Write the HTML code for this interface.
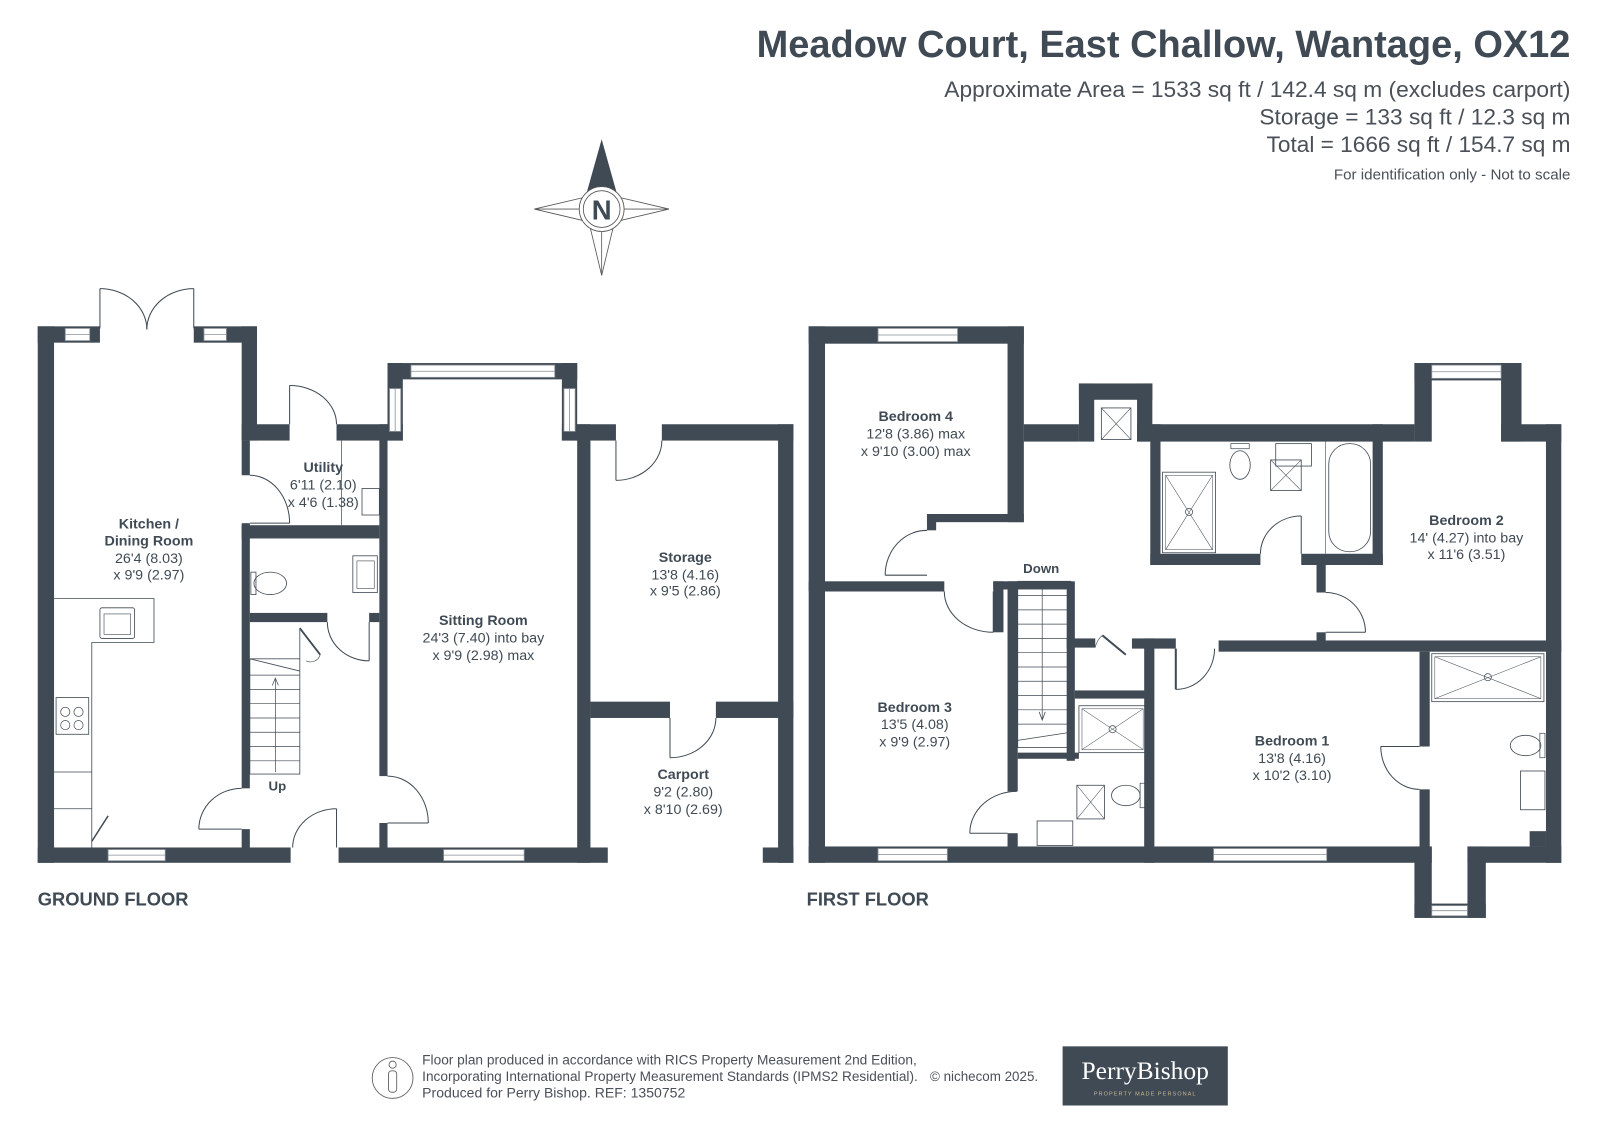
<!DOCTYPE html>
<html><head><meta charset="utf-8"><style>
html,body{margin:0;padding:0;background:#fff;}
svg{display:block;}
text{font-family:"Liberation Sans",Arial,sans-serif;}
</style></head><body>
<svg width="1599" height="1131" viewBox="0 0 1568 1109" preserveAspectRatio="none" xmlns="http://www.w3.org/2000/svg">
<rect width="1568" height="1109" fill="#fff"/>
<g fill="#3f4a54" text-anchor="end">
<text x="1540" y="56" font-size="37" font-weight="bold" textLength="798" lengthAdjust="spacingAndGlyphs">Meadow Court, East Challow, Wantage, OX12</text>
<text x="1540" y="95" font-size="21.5" fill="#4a5058" textLength="614" lengthAdjust="spacingAndGlyphs">Approximate Area = 1533 sq ft / 142.4 sq m (excludes carport)</text>
<text x="1540" y="122" font-size="21.5" fill="#4a5058" textLength="305" lengthAdjust="spacingAndGlyphs">Storage = 133 sq ft / 12.3 sq m</text>
<text x="1540" y="149" font-size="21.5" fill="#4a5058" textLength="298" lengthAdjust="spacingAndGlyphs">Total = 1666 sq ft / 154.7 sq m</text>
<text x="1540" y="176" font-size="14.5" fill="#4a5058" textLength="232" lengthAdjust="spacingAndGlyphs">For identification only - Not to scale</text>
</g>
<g stroke="#555" stroke-width="0.8" fill="#fff">
<polygon points="524,205 575,193 575,217"/>
<polygon points="656,205 605,193 605,217"/>
<polygon points="590,270 578,220 602,220"/>
<line x1="524" y1="205" x2="656" y2="205"/>
<line x1="590" y1="220" x2="590" y2="270"/>
<polygon points="590,138 576,188 604,188" fill="#3f4a54" stroke="#3f4a54"/>
<circle cx="590" cy="205" r="22"/>
<circle cx="590" cy="205" r="18"/>
</g>
<text x="590" y="215" font-size="27" font-weight="bold" fill="#3f4a54" text-anchor="middle">N</text>

<g fill="#3f4a54">
<rect x="37" y="320" width="16" height="526"/>
<rect x="37" y="320" width="61" height="16"/>
<rect x="190" y="320" width="62" height="16"/>
<rect x="237" y="320" width="15" height="112"/>
<rect x="237" y="432" width="8" height="34"/>
<rect x="237" y="513" width="8" height="260"/>
<rect x="237" y="813" width="8" height="20"/>
<rect x="237" y="416" width="47" height="16"/>
<rect x="330" y="416" width="65" height="16"/>
<rect x="380" y="356" width="15" height="76"/>
<rect x="380" y="356" width="186" height="16"/>
<rect x="551" y="356" width="15" height="76"/>
<rect x="551" y="416" width="28" height="16"/>
<rect x="372" y="416" width="8" height="345"/>
<rect x="372" y="807" width="8" height="26"/>
<rect x="566" y="416" width="13" height="430"/>
<rect x="237" y="515" width="135" height="13"/>
<rect x="245" y="601" width="76" height="9"/>
<rect x="362" y="601" width="10" height="9"/>
<rect x="37" y="831" width="248" height="15"/>
<rect x="332" y="831" width="264" height="15"/>
<rect x="579" y="416" width="25" height="16"/>
<rect x="649" y="416" width="129" height="16"/>
<rect x="763" y="416" width="15" height="430"/>
<rect x="579" y="688" width="78" height="16"/>
<rect x="702" y="688" width="76" height="16"/>
<rect x="748" y="831" width="30" height="15"/>
</g>
<g fill="#fff" stroke="#8a9096" stroke-width="0.8">
<rect x="64" y="322" width="24" height="12"/><line x1="64" y1="328" x2="88" y2="328"/>
<rect x="200" y="322" width="22" height="12"/><line x1="200" y1="328" x2="222" y2="328"/>
<rect x="403" y="358" width="141" height="12"/><line x1="403" y1="364" x2="544" y2="364"/>
<rect x="382" y="381" width="11" height="42"/><line x1="387.5" y1="381" x2="387.5" y2="423"/>
<rect x="553" y="381" width="11" height="42"/><line x1="558.5" y1="381" x2="558.5" y2="423"/>
<rect x="106" y="833" width="56" height="11"/><line x1="106" y1="838.5" x2="162" y2="838.5"/>
<rect x="435" y="833" width="79" height="11"/><line x1="435" y1="838.5" x2="514" y2="838.5"/>
</g>
<g fill="none" stroke="#3f4a54" stroke-width="1">
<line x1="98" y1="283" x2="98" y2="322"/><line x1="190" y1="283" x2="190" y2="322"/>
<path d="M98,283 A46,40 0 0 1 144,323"/><path d="M190,283 A46,40 0 0 0 144,323"/>
<line x1="284" y1="378" x2="284" y2="416"/><path d="M284,378 A46,38 0 0 1 330,416"/>
<line x1="245" y1="513" x2="284" y2="513"/><path d="M245,466 A39,47 0 0 1 284,513"/>
<line x1="237" y1="813" x2="195" y2="813"/><path d="M195,813 A42,40 0 0 1 237,773"/>
<line x1="380" y1="807" x2="420" y2="807"/><path d="M380,761 A40,46 0 0 1 420,807"/>
<line x1="330" y1="831" x2="330" y2="793"/><path d="M330,793 A43,38 0 0 0 287,831"/>
<line x1="604" y1="432" x2="604" y2="471"/><path d="M604,471 A45,39 0 0 0 649,432"/>
<line x1="657" y1="704" x2="657" y2="743"/><path d="M657,743 A45,39 0 0 0 702,704"/>
<line x1="362" y1="610" x2="362" y2="648"/><path d="M321,610 A41,38 0 0 0 362,648"/>
<line x1="335" y1="432" x2="335" y2="515" stroke-width="0.7"/>
<rect x="355" y="479" width="17" height="26" stroke-width="0.8"/>
<path d="M53,587 H151 V630 H90 V831" stroke-width="0.8"/>
<line x1="53" y1="757" x2="90" y2="757" stroke-width="0.8"/>
<line x1="53" y1="793" x2="90" y2="793" stroke-width="0.8"/>
<line x1="90" y1="825" x2="106" y2="800" stroke-width="1.5"/>
<rect x="98" y="596" width="34" height="30" rx="2" stroke-width="0.8"/>
<rect x="102" y="602" width="26" height="20" stroke-width="0.6"/>
<rect x="55" y="684" width="32" height="36" stroke-width="0.8"/>
<circle cx="64" cy="698" r="4.5" stroke-width="0.7"/><circle cx="77" cy="698" r="4.5" stroke-width="0.7"/>
<circle cx="64" cy="711" r="4.5" stroke-width="0.7"/><circle cx="77" cy="711" r="4.5" stroke-width="0.7"/>
<ellipse cx="265" cy="572" rx="16" ry="11" stroke-width="0.8"/>
<rect x="246" y="561" width="5" height="22" stroke-width="0.8"/>
<rect x="346" y="545" width="24" height="36" stroke-width="0.8"/>
<rect x="350" y="550" width="17" height="27" stroke-width="0.6"/>
<rect x="245" y="646" width="49" height="113" stroke-width="0.8"/>
<line x1="245" y1="646" x2="294" y2="658" stroke-width="0.8"/>
<g stroke-width="0.7">
<line x1="245" y1="662" x2="294" y2="662"/><line x1="245" y1="676" x2="294" y2="676"/>
<line x1="245" y1="690" x2="294" y2="690"/><line x1="245" y1="704" x2="294" y2="704"/>
<line x1="245" y1="718" x2="294" y2="718"/><line x1="245" y1="732" x2="294" y2="732"/>
<line x1="245" y1="746" x2="294" y2="746"/>
<line x1="270" y1="757" x2="270" y2="666"/>
</g>
<path d="M267,672 L270,665 L273,672" stroke-width="0.7"/>
<line x1="294" y1="616" x2="314" y2="642" stroke-width="1.8"/>
<path d="M294,616 V646" stroke-width="0.8"/>
<path d="M314,642 A10,10 0 0 1 300,648" stroke-width="0.6"/>
</g>
<g fill="#3f4a54" font-size="14" text-anchor="middle">
<text x="146" y="518" font-weight="bold">Kitchen /</text>
<text x="146" y="535" font-weight="bold">Dining Room</text>
<text x="146" y="552">26'4 (8.03)</text>
<text x="146" y="568">x 9'9 (2.97)</text>
<text x="317" y="463" font-weight="bold">Utility</text>
<text x="317" y="480">6'11 (2.10)</text>
<text x="317" y="497">x 4'6 (1.38)</text>
<text x="474" y="613" font-weight="bold">Sitting Room</text>
<text x="474" y="630">24'3 (7.40) into bay</text>
<text x="474" y="647">x 9'9 (2.98) max</text>
<text x="672" y="551" font-weight="bold">Storage</text>
<text x="672" y="568">13'8 (4.16)</text>
<text x="672" y="584">x 9'5 (2.86)</text>
<text x="670" y="764" font-weight="bold">Carport</text>
<text x="670" y="781">9'2 (2.80)</text>
<text x="670" y="798">x 8'10 (2.69)</text>
<text x="272" y="775" font-weight="bold" font-size="13">Up</text>
</g>
<text x="37" y="888" font-size="18" font-weight="bold" fill="#3f4a54">GROUND FLOOR</text>

<g fill="#3f4a54">
<rect x="793" y="320" width="16" height="526"/>
<rect x="793" y="320" width="211" height="17"/>
<rect x="988" y="320" width="16" height="192"/>
<rect x="909" y="504" width="95" height="8"/>
<rect x="909" y="504" width="9" height="16"/>
<rect x="793" y="570" width="133" height="10"/>
<rect x="974" y="570" width="76" height="8"/>
<rect x="974" y="570" width="10" height="50"/>
<rect x="988" y="570" width="10" height="206"/>
<rect x="988" y="817" width="10" height="16"/>
<rect x="1004" y="416" width="54" height="17"/>
<rect x="1058" y="376" width="15" height="57"/>
<rect x="1058" y="376" width="72" height="16"/>
<rect x="1115" y="376" width="15" height="57"/>
<rect x="1115" y="416" width="272" height="17"/>
<rect x="1387" y="356" width="17" height="77"/>
<rect x="1387" y="356" width="105" height="17"/>
<rect x="1472" y="356" width="20" height="77"/>
<rect x="1472" y="416" width="59" height="17"/>
<rect x="1516" y="416" width="15" height="430"/>
<rect x="1128" y="416" width="10" height="138"/>
<rect x="1128" y="543" width="108" height="11"/>
<rect x="1276" y="543" width="80" height="11"/>
<rect x="1346" y="416" width="10" height="138"/>
<rect x="1291" y="554" width="9" height="27"/>
<rect x="1291" y="620" width="9" height="10"/>
<rect x="1195" y="628" width="336" height="11"/>
<rect x="1110" y="626" width="43" height="10"/>
<rect x="1046" y="626" width="28" height="9"/>
<rect x="1046" y="570" width="8" height="176"/>
<rect x="1122" y="626" width="10" height="220"/>
<rect x="1054" y="677" width="70" height="8"/>
<rect x="998" y="738" width="60" height="6"/>
<rect x="1392" y="639" width="10" height="93"/>
<rect x="1392" y="774" width="10" height="60"/>
<rect x="793" y="830" width="611" height="16"/>
<rect x="1387" y="830" width="17" height="70"/>
<rect x="1387" y="886" width="70" height="14"/>
<rect x="1439" y="830" width="18" height="70"/>
<rect x="1439" y="830" width="92" height="16"/>
<rect x="1500" y="815" width="16" height="15"/>
</g>
<g fill="#fff" stroke="#8a9096" stroke-width="0.8">
<rect x="861" y="322" width="78" height="13"/><line x1="861" y1="328.5" x2="939" y2="328.5"/>
<rect x="1404" y="358" width="68" height="13"/><line x1="1404" y1="364.5" x2="1472" y2="364.5"/>
<rect x="861" y="832" width="68" height="12"/><line x1="861" y1="838" x2="929" y2="838"/>
<rect x="1190" y="832" width="111" height="12"/><line x1="1190" y1="838" x2="1301" y2="838"/>
<rect x="1404" y="888" width="35" height="10"/><line x1="1404" y1="893" x2="1439" y2="893"/>
</g>
<g fill="none" stroke="#3f4a54" stroke-width="1">
<line x1="868" y1="564" x2="909" y2="564"/><path d="M868,564 A41,44 0 0 1 909,520"/>
<line x1="974" y1="580" x2="974" y2="620"/><path d="M926,580 A48,40 0 0 0 974,620"/>
<line x1="951" y1="817" x2="988" y2="817"/><path d="M951,817 A46,41 0 0 1 997,776"/>
<line x1="1276" y1="543" x2="1276" y2="506"/><path d="M1236,543 A40,37 0 0 1 1276,506"/>
<line x1="1300" y1="620" x2="1339" y2="620"/><path d="M1300,581 A39,39 0 0 1 1339,620"/>
<line x1="1153" y1="636" x2="1153" y2="676" stroke-width="2"/><path d="M1153,676 A38,40 0 0 0 1191,636"/>
<line x1="1354" y1="732" x2="1392" y2="732"/><path d="M1354,732 A38,42 0 0 0 1392,774"/>
<line x1="1081" y1="623" x2="1104" y2="642" stroke-width="2"/>
<path d="M1074,635 A20,20 0 0 1 1081,623" stroke-width="0.6"/>
<rect x="1080" y="400" width="29" height="31" stroke-width="0.8"/>
<path d="M1080,400 L1109,431 M1109,400 L1080,431" stroke-width="0.6"/>
<rect x="1140" y="463" width="52" height="79" stroke-width="0.8"/>
<rect x="1143" y="466" width="46" height="73" stroke-width="0.5"/>
<path d="M1143,466 L1189,539 M1189,466 L1143,539" stroke-width="0.5"/>
<circle cx="1166" cy="502" r="3.5" stroke-width="0.7"/>
<ellipse cx="1216" cy="456" rx="10" ry="14" stroke-width="0.8"/>
<rect x="1207" y="435" width="18" height="5" stroke-width="0.7"/>
<rect x="1251" y="435" width="35" height="22" stroke-width="0.8"/>
<rect x="1246" y="451" width="30" height="30" stroke-width="0.8"/>
<path d="M1246,451 L1276,481 M1276,451 L1246,481" stroke-width="0.5"/>
<line x1="1300" y1="433" x2="1300" y2="543" stroke-width="0.6"/>
<rect x="1303" y="435" width="41" height="106" rx="20" stroke-width="0.8"/>
<rect x="998" y="570" width="52" height="163" stroke-width="0.8"/>
<g stroke-width="0.7">
<line x1="998" y1="584" x2="1050" y2="584"/><line x1="998" y1="598" x2="1050" y2="598"/>
<line x1="998" y1="612" x2="1050" y2="612"/><line x1="998" y1="626" x2="1050" y2="626"/>
<line x1="998" y1="640" x2="1050" y2="640"/><line x1="998" y1="654" x2="1050" y2="654"/>
<line x1="998" y1="668" x2="1050" y2="668"/><line x1="998" y1="682" x2="1050" y2="682"/>
<line x1="998" y1="696" x2="1050" y2="696"/><line x1="998" y1="710" x2="1050" y2="710"/>
<line x1="998" y1="726" x2="1050" y2="718"/>
<line x1="1022" y1="572" x2="1022" y2="705"/>
</g>
<path d="M1019,698 L1022,706 L1025,698" stroke-width="0.8"/>
<rect x="1058" y="692" width="66" height="46" stroke-width="0.8"/>
<rect x="1061" y="695" width="60" height="40" stroke-width="0.5"/>
<path d="M1061,695 L1121,735 M1121,695 L1061,735" stroke-width="0.5"/>
<circle cx="1091" cy="715" r="3.5" stroke-width="0.7"/>
<ellipse cx="1104" cy="780" rx="14" ry="10" stroke-width="0.8"/>
<rect x="1118" y="768" width="5" height="24" stroke-width="0.7"/>
<rect x="1056" y="770" width="27" height="33" stroke-width="0.8"/>
<path d="M1056,770 L1083,803 M1083,770 L1056,803" stroke-width="0.5"/>
<rect x="1017" y="805" width="35" height="24" stroke-width="0.8"/>
<rect x="1404" y="641" width="110" height="47" stroke-width="0.8"/>
<rect x="1407" y="644" width="104" height="41" stroke-width="0.5"/>
<path d="M1407,644 L1511,685 M1511,644 L1407,685" stroke-width="0.5"/>
<circle cx="1459" cy="664" r="3.5" stroke-width="0.7"/>
<ellipse cx="1496" cy="731" rx="15" ry="10" stroke-width="0.8"/>
<rect x="1510" y="719" width="5" height="24" stroke-width="0.7"/>
<rect x="1491" y="756" width="24" height="38" stroke-width="0.8"/>
</g>
<g fill="#3f4a54" font-size="14" text-anchor="middle">
<text x="898" y="413" font-weight="bold">Bedroom 4</text>
<text x="898" y="430">12'8 (3.86) max</text>
<text x="898" y="447">x 9'10 (3.00) max</text>
<text x="897" y="698" font-weight="bold">Bedroom 3</text>
<text x="897" y="715">13'5 (4.08)</text>
<text x="897" y="732">x 9'9 (2.97)</text>
<text x="1267" y="731" font-weight="bold">Bedroom 1</text>
<text x="1267" y="748">13'8 (4.16)</text>
<text x="1267" y="765">x 10'2 (3.10)</text>
<text x="1438" y="515" font-weight="bold">Bedroom 2</text>
<text x="1438" y="532">14' (4.27) into bay</text>
<text x="1438" y="548">x 11'6 (3.51)</text>
<text x="1021" y="562" font-weight="bold" font-size="13">Down</text>
</g>
<text x="791" y="888" font-size="18" font-weight="bold" fill="#3f4a54">FIRST FLOOR</text>

<g fill="none" stroke="#666" stroke-width="0.9">
<circle cx="385" cy="1057" r="20"/>
<circle cx="385" cy="1044" r="3.5"/>
<rect x="381" y="1050" width="8" height="21" rx="3"/>
</g>
<g fill="#4a5058" font-size="13.3">
<text x="414" y="1044" textLength="485" lengthAdjust="spacingAndGlyphs">Floor plan produced in accordance with RICS Property Measurement 2nd Edition,</text>
<text x="414" y="1060" textLength="486" lengthAdjust="spacingAndGlyphs">Incorporating International Property Measurement Standards (IPMS2 Residential).</text>
<text x="912" y="1060" textLength="106" lengthAdjust="spacingAndGlyphs">© nichecom 2025.</text>
<text x="414" y="1076" textLength="258" lengthAdjust="spacingAndGlyphs">Produced for Perry Bishop.   REF: 1350752</text>
</g>
<rect x="1042" y="1026" width="162" height="58" fill="#3f4a54"/>
<text x="1123" y="1058" style="font-family:'Liberation Serif',serif" font-size="25" fill="#fff" text-anchor="middle">PerryBishop</text>
<text x="1123" y="1074" font-size="5.5" fill="#c8b88a" text-anchor="middle" letter-spacing="1">PROPERTY MADE PERSONAL</text>
</svg>
</body></html>
